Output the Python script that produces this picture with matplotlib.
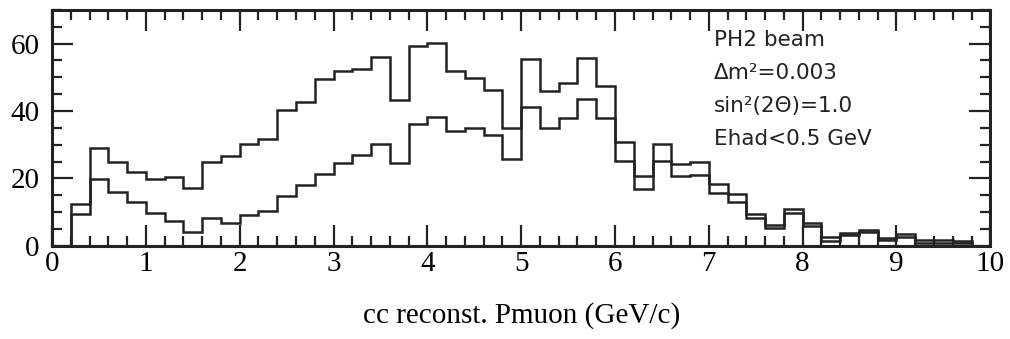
import numpy as np
import matplotlib.pyplot as plt
from matplotlib.ticker import MultipleLocator

# bin edges of the momentum histogram (GeV/c)
edges = np.linspace(0, 10, 51)

# no-oscillation expectation (upper histogram)
upper = [0, 12.5, 29, 25, 21.8, 19.7, 20.3, 17, 25, 26.5,
         30.2, 31.7, 40.4, 42.8, 49.5, 52, 52.5, 56, 43.2, 59.3,
         60.1, 51.8, 49.8, 46.1, 35, 55.4, 45.9, 48.4, 55.8, 47.4,
         30.7, 20.7, 30.2, 24.2, 24.9, 18.3, 15.3, 9.5, 6.3, 10.8,
         6.8, 2.5, 3.7, 4.6, 2.4, 3.4, 1.6, 1.6, 1.4, 0]

# with oscillation (lower histogram)
lower = [0, 9.3, 19.7, 16, 13, 9.7, 7.3, 4.2, 8.2, 6.8,
         9, 10.4, 14.9, 17.9, 21.4, 24.7, 26.9, 30.1, 24.6, 36.2,
         38.3, 34, 35, 32.9, 25.6, 41.1, 35, 37.9, 43.6, 37.9,
         25.2, 16.7, 25.2, 20.7, 21, 15.7, 13, 8.1, 5.3, 9.8,
         6, 1.5, 3.1, 4, 1.6, 2.6, 0.9, 0.9, 0.9, 0]

notes = ["PH2 beam", "Δm²=0.003", "sin²(2Θ)=1.0", "Ehad<0.5 GeV"]

fig = plt.figure(figsize=(10.1, 3.39), dpi=100)
ax = fig.add_axes([0.0515, 0.275, 0.929, 0.696])

ax.stairs(upper, edges, baseline=0, color="#222222", lw=1.8)
ax.stairs(lower, edges, baseline=0, color="#222222", lw=1.8)

ax.set_xlim(0, 10)
ax.set_ylim(0, 70)
ax.xaxis.set_major_locator(MultipleLocator(1))
ax.xaxis.set_minor_locator(MultipleLocator(0.2))
ax.yaxis.set_major_locator(MultipleLocator(20))
ax.yaxis.set_minor_locator(MultipleLocator(5))
ax.tick_params(which="both", direction="in", top=True, right=True,
               width=1.6, color="#222222")
ax.tick_params(which="major", length=15)
ax.tick_params(which="minor", length=7)
ax.tick_params(axis="x", labelsize=21, pad=4)
ax.tick_params(axis="y", labelsize=21, pad=9)
for lab in ax.get_xticklabels() + ax.get_yticklabels():
    lab.set_family("Liberation Serif")
for s in ax.spines.values():
    s.set_linewidth(2.2)
    s.set_color("#222222")

ax.set_xlabel("cc reconst. Pmuon (GeV/c)", family="Liberation Serif",
              fontsize=21, labelpad=18)

for i, t in enumerate(notes):
    ax.text(0.705, 0.915 - i * 0.14, t, transform=ax.transAxes,
            family=["DejaVu Sans"], fontsize=15.5, va="top", color="#222222")

fig.savefig("out.png", dpi=100)
